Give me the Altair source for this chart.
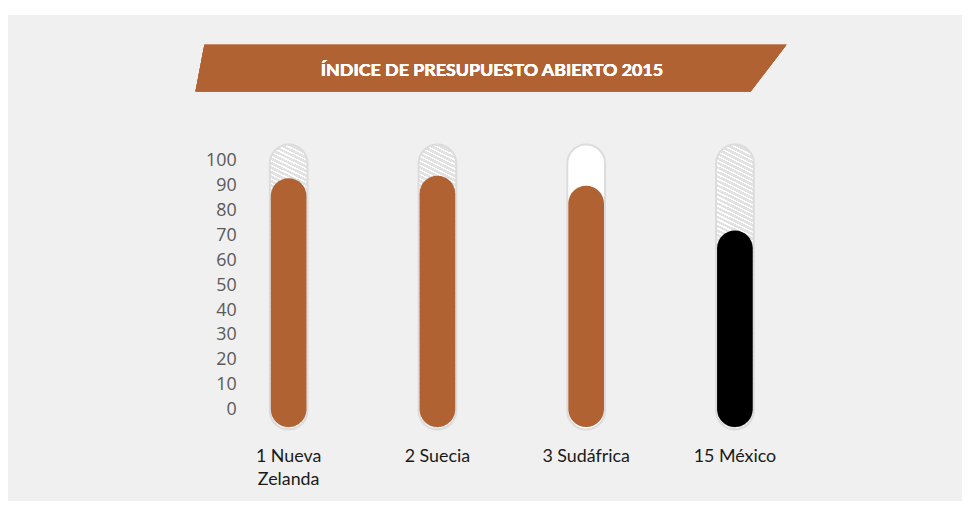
import altair as alt
import pandas as pd

# ---- data ----
countries = ["1 Nueva|Zelanda", "2 Suecia", "3 Sudáfrica", "15 México"]
scores = [93, 94, 90, 72]
hatched = [True, True, False, True]
bar_colors = ["#b06232", "#b06232", "#b06232", "#000000"]
y_ticks = [0, 10, 20, 30, 40, 50, 60, 70, 80, 90, 100]
title_text = "ÍNDICE DE PRESUPUESTO ABIERTO 2015"

BROWN = "#b06232"
BG = "#f0f0f0"

df = pd.DataFrame({
    "country": countries,
    "score": scores,
    "hatched": hatched,
    "color": bar_colors,
})

# diagonal hatch made of a striped linear gradient
stops = []
N = 68
for k in range(N):
    a = k / N
    b = (k + 0.35) / N
    c = (k + 1) / N
    stops += [
        alt.GradientStop(offset=a, color="#ffffff"),
        alt.GradientStop(offset=b, color="#ffffff"),
        alt.GradientStop(offset=b, color="#e2e2e2"),
        alt.GradientStop(offset=c, color="#e2e2e2"),
    ]
hatch = alt.LinearGradient(gradient="linear", stops=stops, x1=0.07, y1=-0.07, x2=0, y2=1)

x_axis = alt.Axis(
    title=None, labelAngle=0, domain=False, ticks=False, zindex=2,
    labelFont="Lato", labelFontSize=18, labelColor="#1a1a1a",
    labelPadding=18, labelLineHeight=23,
    labelExpr="split(datum.label, '|')",
)
y_axis = alt.Axis(
    title=None, values=y_ticks, domain=False, ticks=False, grid=False,
    labelFont="Open Sans", labelFontSize=18, labelColor="#5a5a5a",
    labelOverlap=False, offset=-24, labelPadding=2, zindex=2,
)
x_enc = alt.X("country:N", sort=countries,
              scale=alt.Scale(paddingInner=0, paddingOuter=0), axis=x_axis)
y_scale = alt.Scale(domain=[-8, 108], nice=False, zero=False)


def y_enc():
    return alt.Y("score:Q", scale=y_scale, axis=y_axis)


base = alt.Chart(df)

background = base.mark_rect(color=BG).encode(
    x=alt.value(-208), x2=alt.value(754), y=alt.value(-127), y2=alt.value(365)
)

banner_path = "M -0.9698 -0.0789 L 1 -0.0789 L 0.879 0.0789 L -1 0.0789 Z"
banner = base.mark_point(
    shape=banner_path, size=596 * 596, filled=True, fill=BROWN,
    strokeWidth=0, opacity=1,
).encode(x=alt.value(279), y=alt.value(-73.5))

title = base.mark_text(
    text=title_text, font="Lato", fontSize=18, fontWeight="bold",
    color="white", align="center", baseline="middle",
).encode(x=alt.value(280), y=alt.value(-70))

tube_white = base.mark_bar(
    size=38, cornerRadius=19, fill="white", stroke="#dcdcdc", strokeWidth=2
).encode(
    x=x_enc, y=y_enc(), y2=alt.Y2(datum=-8),
).transform_calculate(score="106.6").transform_filter("!datum.hatched")

tube_hatch = base.mark_bar(
    size=38, cornerRadius=19, fill=hatch, stroke="#dcdcdc", strokeWidth=2
).encode(
    x=x_enc, y=y_enc(), y2=alt.Y2(datum=-8),
).transform_calculate(score="106.6").transform_filter("datum.hatched")

bars = base.mark_bar(size=36, cornerRadius=18).encode(
    x=x_enc,
    y=y_enc(),
    y2=alt.Y2(datum=-7),
    color=alt.Color("color:N", scale=None, legend=None),
)

chart = alt.layer(background, banner, title, tube_white, tube_hatch, bars).properties(
    width=600, height=291,
    autosize=alt.AutoSizeParams(type="none"),
    padding={"left": 208, "top": 132, "right": 154, "bottom": 70},
    background="white",
).configure_view(stroke=None)

chart.save("out.html", embed_options={"renderer": "svg", "actions": False})
